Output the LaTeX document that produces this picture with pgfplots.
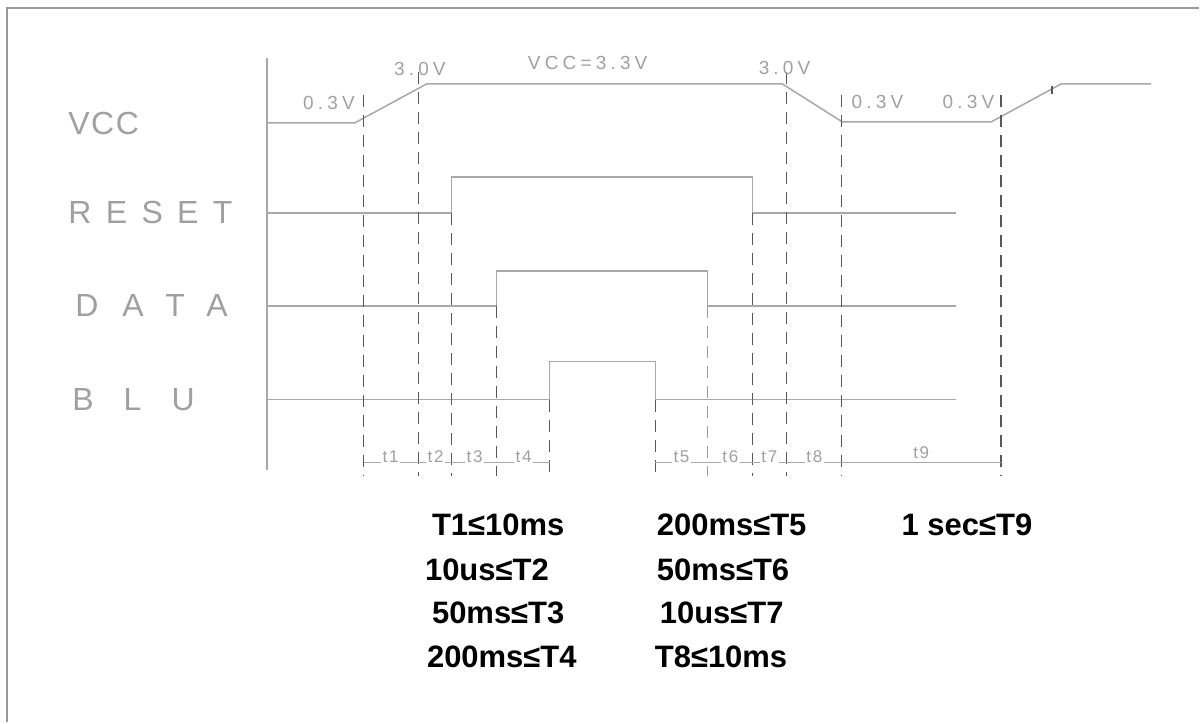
\documentclass[border=0pt]{standalone}
\usepackage{pgfplots}
\pgfplotsset{compat=1.18}
\usepackage{fontspec}
\setmainfont{Liberation Sans}
\newfontfamily\cad{Liberation Sans}
\definecolor{sig}{HTML}{A8A8A8}
\definecolor{dsh}{HTML}{585858}
\definecolor{lbl}{HTML}{A0A0A0}
\definecolor{frm}{HTML}{999999}
\begin{document}
\begin{tikzpicture}
\begin{axis}[x=0.5pt, y=0.5pt, y dir=reverse, xmin=0, xmax=1200, ymin=0, ymax=723,
  hide axis, clip=false, scale only axis]
\path (axis cs:0,0) rectangle (axis cs:1200,723);
% frame (top and left)
\addplot[frm, line width=1pt] coordinates {(7,723) (7,8) (1200,8)};
% vertical axis
\addplot[sig, line width=0.75pt] coordinates {(267,58) (267,470)};
% signals
\addplot[sig, line width=0.75pt] coordinates {(267,123) (355,123) (427,84) (783,84) (843,122) (992,122) (1062,84) (1152,84)};
\addplot[sig, line width=0.75pt] coordinates {(267,213) (452,213) (452,177) (753,177) (753,213) (957,213)};
\addplot[sig, line width=0.75pt] coordinates {(267,306) (497,306) (497,271) (708,271) (708,306) (957,306)};
\addplot[sig, line width=0.75pt] coordinates {(267,400) (550,400) (550,362) (656,362) (656,400) (957,400)};
% small tick on rising ramp
\addplot[dsh, line width=0.9pt] coordinates {(1053,86) (1053,94)};
% dashed verticals
\addplot[dsh, line width=0.7pt, dash pattern=on 6pt off 4pt] coordinates {(364,95) (364,476)};
\addplot[dsh, line width=0.7pt, dash pattern=on 6pt off 4pt] coordinates {(419,72) (419,476)};
\addplot[dsh, line width=0.7pt, dash pattern=on 6pt off 4pt] coordinates {(452,213) (452,476)};
\addplot[dsh, line width=0.7pt, dash pattern=on 6pt off 4pt] coordinates {(497,306) (497,476)};
\addplot[dsh, line width=0.7pt, dash pattern=on 6pt off 4pt] coordinates {(550,400) (550,476)};
\addplot[dsh, line width=0.7pt, dash pattern=on 6pt off 4pt] coordinates {(656,400) (656,476)};
\addplot[dsh!60, line width=0.7pt, dash pattern=on 6pt off 4pt] coordinates {(708,306) (708,476)};
\addplot[dsh, line width=0.7pt, dash pattern=on 6pt off 4pt] coordinates {(753,213) (753,476)};
\addplot[dsh, line width=0.7pt, dash pattern=on 6pt off 4pt] coordinates {(787,72) (787,476)};
\addplot[dsh, line width=0.7pt, dash pattern=on 6pt off 4pt] coordinates {(842,95) (842,476)};
\addplot[dsh, line width=0.7pt, dash pattern=on 6pt off 4pt] coordinates {(1002,95) (1002,476)};
% dimension line
\addplot[sig, line width=0.7pt] coordinates {(364,463) (550,463)};
\addplot[sig, line width=0.7pt] coordinates {(656,463) (1002,463)};
% t labels
\begin{scope}[every node/.style={font=\cad\addfontfeature{LetterSpace=10}\fontsize{8.5pt}{9pt}\selectfont, text=lbl, fill=white, inner sep=0.8pt}]
\node at (axis cs:391,457) {t1};
\node at (axis cs:436,457) {t2};
\node at (axis cs:475,457) {t3};
\node at (axis cs:524,457) {t4};
\node at (axis cs:682,457) {t5};
\node at (axis cs:731,457) {t6};
\node at (axis cs:770,457) {t7};
\node at (axis cs:815,457) {t8};
\node[fill=none] at (axis cs:922,453) {t9};
\end{scope}
% voltage labels
\begin{scope}[every node/.style={font=\cad\addfontfeature{LetterSpace=22}\fontsize{9.5pt}{10pt}\selectfont, text=lbl, anchor=west, inner sep=0pt}]
\node at (axis cs:303,103) {0.3V};
\node at (axis cs:394,69) {3.0V};
\node at (axis cs:528,63) {VCC=3.3V};
\node at (axis cs:759,68) {3.0V};
\node at (axis cs:852,102) {0.3V};
\node at (axis cs:943,102) {0.3V};
\end{scope}
% signal names
\begin{scope}[every node/.style={text=lbl, anchor=west, inner sep=0pt}]
\node[font=\cad\addfontfeature{LetterSpace=5}\fontsize{16pt}{18pt}\selectfont] at (axis cs:68,124) {VCC};
\node[font=\cad\addfontfeature{LetterSpace=45}\fontsize{16pt}{18pt}\selectfont] at (axis cs:68,213) {RESET};
\node[font=\cad\addfontfeature{LetterSpace=75}\fontsize{16pt}{18pt}\selectfont] at (axis cs:75,306) {DATA};
\node[font=\cad\addfontfeature{LetterSpace=94}\fontsize{16pt}{18pt}\selectfont] at (axis cs:72,400) {BLU};
\end{scope}
% conditions
\begin{scope}[every node/.style={font=\bfseries\fontsize{15.5pt}{17pt}\selectfont, text=black, anchor=west, inner sep=0pt}]
\node at (axis cs:432,525) {T1≤10ms};
\node at (axis cs:425,570) {10us≤T2};
\node at (axis cs:432,613) {50ms≤T3};
\node at (axis cs:427,657) {200ms≤T4};
\node at (axis cs:657,525) {200ms≤T5};
\node at (axis cs:657,570) {50ms≤T6};
\node at (axis cs:660,613) {10us≤T7};
\node at (axis cs:655,657) {T8≤10ms};
\node at (axis cs:902,525) {1 sec≤T9};
\end{scope}
\end{axis}
\end{tikzpicture}
\end{document}
